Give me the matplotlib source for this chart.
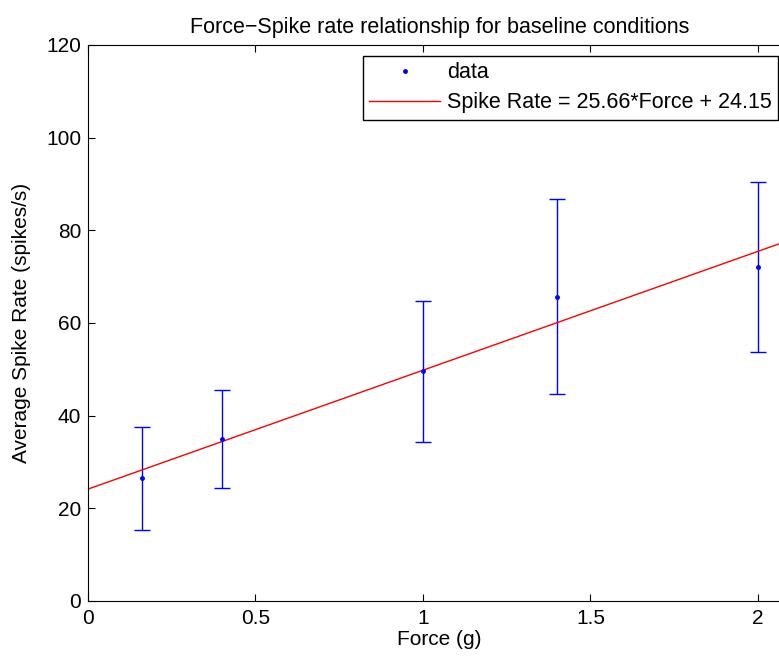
# Force vs spike rate, baseline conditions
import numpy as np
import matplotlib.pyplot as plt

plt.rcParams['font.family'] = ['Liberation Sans', 'DejaVu Sans']

# Measured data
force = [0.16, 0.40, 1.00, 1.40, 2.00]
rate = [26.5, 35.0, 49.6, 65.7, 72.0]
rate_hi = [37.6, 45.5, 64.7, 86.7, 90.4]
rate_lo = [15.3, 24.3, 34.3, 44.7, 53.7]

# Linear fit
slope = 25.66
intercept = 24.15

err_lo = np.array(rate) - np.array(rate_lo)
err_hi = np.array(rate_hi) - np.array(rate)

fig = plt.figure(figsize=(7.79, 6.57), dpi=100)
ax = fig.add_axes([88/779, 56/657, 703.5/779, 556/657])

ax.errorbar(force, rate, yerr=[err_lo, err_hi], fmt='none', ecolor='blue',
            elinewidth=1, capsize=6, capthick=1, zorder=2)
ax.plot(force, rate, '.', color='blue', markersize=5, label='data', zorder=3)

xfit = np.linspace(0, 2.1, 10)
ax.plot(xfit, slope * xfit + intercept, '-', color='red', linewidth=1,
        label='Spike Rate = %.2f*Force + %.2f' % (slope, intercept), zorder=2)

ax.set_xlim(0, 2.1)
ax.set_ylim(0, 120)
ax.set_xticks([0, 0.5, 1, 1.5, 2])
ax.set_xticklabels(['0', '0.5', '1', '1.5', '2'])
ax.set_yticks(range(0, 121, 20))
ax.tick_params(direction='in', top=True, right=True, labelsize=15, length=5, width=0.8)
ax.tick_params(axis='y', pad=5)
ax.tick_params(axis='x', pad=6)
for s in ax.spines.values():
    s.set_linewidth(0.8)

ax.set_xlabel('Force (g)', fontsize=15, labelpad=1)
ax.set_ylabel('Average Spike Rate (spikes/s)', fontsize=15)
ax.yaxis.set_label_coords(-0.081, 0.5)
ax.set_title('Force\u2212Spike rate relationship for baseline conditions', fontsize=15.5, pad=9)

ax.legend(loc='upper left', bbox_to_anchor=(362.7/779, 1 - 55.7/657),
          bbox_transform=fig.transFigure, fontsize=15.5, frameon=True,
          fancybox=False, edgecolor='black', framealpha=1, borderaxespad=0,
          handlelength=3.3, handletextpad=0.32, borderpad=0.3,
          labelspacing=0.42, markerscale=1)

plt.savefig('out.png', dpi=100)
